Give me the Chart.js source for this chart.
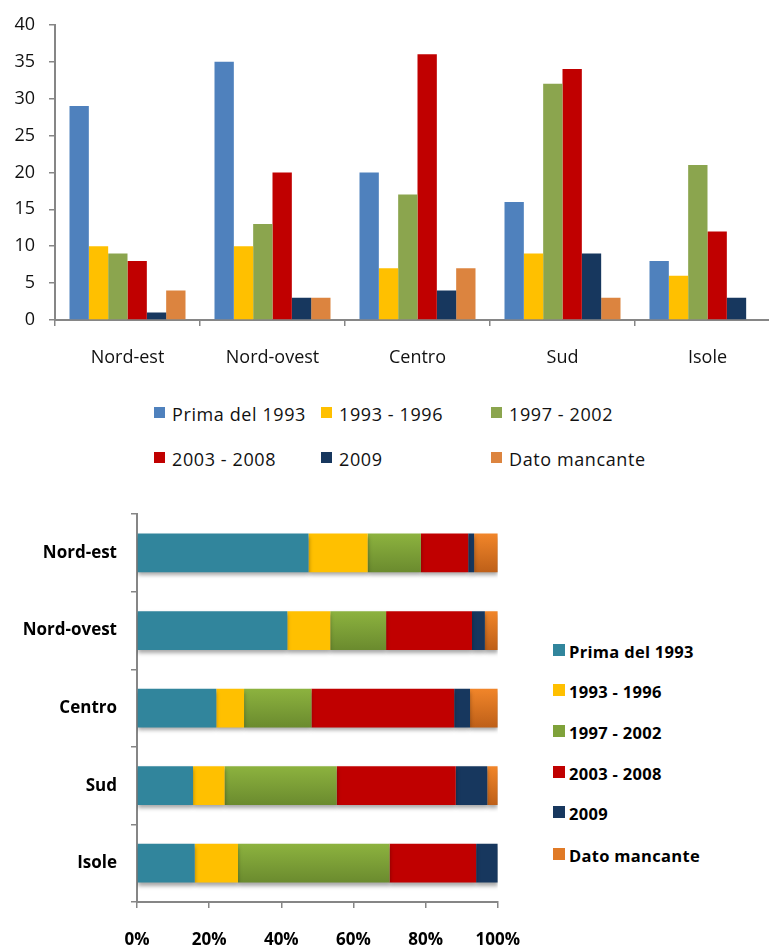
<!DOCTYPE html>
<html>
<head>
<meta charset="utf-8">
<script src="https://cdn.jsdelivr.net/npm/chart.js@4.4.1/dist/chart.umd.min.js"></script>
<style>
  html, body { margin: 0; padding: 0; background: #fff; overflow: hidden; }
  body { width: 769px; height: 946px; position: relative; font-family: "Open Sans", Lato, sans-serif; }
  #top-wrap { position: absolute; left: 0; top: 0; width: 790px; height: 370px; }
  #bottom-wrap { position: absolute; left: 0; top: 490px; width: 542px; height: 470px; }
  .legend-item { position: absolute; display: flex; align-items: center; white-space: nowrap; color: #111; }
  .legend-item span.box { display: inline-block; margin-right: 7px; }
  #top-legend .legend-item { font-size: 18px; height: 24px; letter-spacing: 0.6px; }
  #top-legend span.box { width: 11px; height: 11px; margin-top: -4px; }
  #bottom-legend .legend-item { font-size: 16.5px; font-weight: bold; height: 22px; color: #000; letter-spacing: 0.3px; }
  #bottom-legend span.box { width: 12px; height: 12px; margin-right: 4px; margin-top: -3px; }
</style>
</head>
<body>
<div id="top-wrap"><canvas id="regions-chart"></canvas></div>
<div id="top-legend"></div>
<div id="bottom-wrap"><canvas id="share-chart"></canvas></div>
<div id="bottom-legend"></div>
<script>
// Regions and the period each record dates from
const categories = ["Nord-est", "Nord-ovest", "Centro", "Sud", "Isole"];
const seriesNames = ["Prima del 1993", "1993 - 1996", "1997 - 2002", "2003 - 2008", "2009", "Dato mancante"];

const prima1993 = [29, 35, 20, 16, 8];
const from1993to1996 = [10, 10, 7, 9, 6];
const from1997to2002 = [9, 13, 17, 32, 21];
const from2003to2008 = [8, 20, 36, 34, 12];
const year2009 = [1, 3, 4, 9, 3];
const datoMancante = [4, 3, 7, 3, 0];

const countTicks = [0, 5, 10, 15, 20, 25, 30, 35, 40];
const shareTicks = ["0%", "20%", "40%", "60%", "80%", "100%"];

const allSeries = [prima1993, from1993to1996, from1997to2002, from2003to2008, year2009, datoMancante];

const countColors = ["#4f81bd", "#ffc000", "#8ba54e", "#c00000", "#17375e", "#dc843f"];
const shareColors = ["#31859c", "#ffc000", "#7fa23a", "#c00000", "#17375e", "#e07a26"];
// top / bottom shades for the bars drawn with a gradient
const shareShades = {
  2: ["#8db33f", "#6a8a2e"],
  5: ["#f2862a", "#bd5f18"],
};

const axisGray = "#868686";
const fontFamily = "'Open Sans', Lato, sans-serif";

// ================================ //
// Grouped bars: counts per region   //
// ================================ //
const countDatasets = allSeries.map((values, i) => ({
  label: seriesNames[i],
  data: values,
  backgroundColor: countColors[i],
  borderWidth: 0,
  categoryPercentage: 0.8,
  barPercentage: 1.0,
}));

new Chart(document.getElementById("regions-chart"), {
  type: "bar",
  data: { labels: categories, datasets: countDatasets },
  options: {
    responsive: true,
    maintainAspectRatio: false,
    animation: false,
    layout: { padding: { top: 22, right: 10, left: 0, bottom: 0 } },
    plugins: { legend: { display: false }, tooltip: { enabled: false } },
    scales: {
      x: {
        grid: { display: true, drawOnChartArea: false, tickLength: 6, color: axisGray, lineWidth: 1.5 },
        border: { color: axisGray, width: 2 },
        ticks: { color: "#111", padding: 21, font: { family: fontFamily, size: 18 } },
        afterFit: (scale) => { scale.height = 50; },
      },
      y: {
        min: countTicks[0],
        max: countTicks[countTicks.length - 1],
        afterBuildTicks: (scale) => { scale.ticks = countTicks.map((v) => ({ value: v })); },
        grid: { display: true, drawOnChartArea: false, tickLength: 6, color: axisGray, lineWidth: 1.5 },
        border: { color: axisGray, width: 2 },
        ticks: { color: "#111", padding: 14, font: { family: fontFamily, size: 18 } },
        afterFit: (scale) => { scale.width = 55; },
      },
    },
  },
});

// legend laid out in a 3-column grid under the chart
const topLegend = document.getElementById("top-legend");
const topCols = [154, 321, 491];
const topRows = [414, 459];
seriesNames.forEach((name, i) => {
  const item = document.createElement("div");
  item.className = "legend-item";
  item.style.left = topCols[i % 3] + "px";
  item.style.top = topRows[Math.floor(i / 3)] - 12 + "px";
  item.innerHTML = `<span class="box" style="background:${countColors[i]}"></span>${name}`;
  topLegend.appendChild(item);
});

// ================================== //
// 100% stacked bars: share per region //
// ================================== //
const totals = categories.map((_, r) => allSeries.reduce((acc, s) => acc + s[r], 0));
const shares = allSeries.map((s) => s.map((v, r) => (v / totals[r]) * 100));

function shadedFill(i) {
  if (!shareShades[i]) return shareColors[i];
  return (ctx) => {
    const chart = ctx.chart;
    const yScale = chart.scales.y;
    if (!chart.chartArea || !yScale || ctx.dataIndex === undefined) return shareColors[i];
    const mid = yScale.getPixelForValue(ctx.dataIndex);
    const half = 20;
    const g = chart.ctx.createLinearGradient(0, mid - half, 0, mid + half);
    g.addColorStop(0, shareShades[i][0]);
    g.addColorStop(1, shareShades[i][1]);
    return g;
  };
}

const shareDatasets = shares.map((values, i) => ({
  label: seriesNames[i],
  data: values,
  backgroundColor: shadedFill(i),
  borderWidth: 0,
  categoryPercentage: 0.5,
  barPercentage: 1.0,
}));

// soft drop shadow under the stacked bars
const barShadow = {
  id: "barShadow",
  beforeDatasetsDraw(chart) {
    const c = chart.ctx;
    c.save();
    c.shadowColor = "rgba(0, 0, 0, 0.35)";
    c.shadowBlur = 4;
    c.shadowOffsetY = 3;
  },
  afterDatasetsDraw(chart) {
    chart.ctx.restore();
  },
};

new Chart(document.getElementById("share-chart"), {
  type: "bar",
  data: { labels: categories, datasets: shareDatasets },
  plugins: [barShadow],
  options: {
    indexAxis: "y",
    responsive: true,
    maintainAspectRatio: false,
    animation: false,
    layout: { padding: { top: 23, right: 0, left: 0, bottom: 0 } },
    plugins: { legend: { display: false }, tooltip: { enabled: false } },
    scales: {
      x: {
        stacked: true,
        min: 0,
        max: 100,
        afterBuildTicks: (scale) => { scale.ticks = shareTicks.map((_, k) => ({ value: k * 20 })); },
        grid: { display: true, drawOnChartArea: false, tickLength: 6, color: axisGray, lineWidth: 1.5 },
        border: { color: axisGray, width: 2 },
        ticks: {
          color: "#000",
          padding: 22,
          font: { family: fontFamily, size: 17, weight: "bold" },
          callback: (value, index) => shareTicks[index],
        },
        afterFit: (scale) => { scale.height = 58; },
      },
      y: {
        stacked: true,
        grid: { display: true, drawOnChartArea: false, tickLength: 6, color: axisGray, lineWidth: 1.5 },
        border: { color: axisGray, width: 2 },
        ticks: { color: "#000", padding: 14, font: { family: fontFamily, size: 17, weight: "bold" } },
        afterFit: (scale) => { scale.width = 137; },
      },
    },
  },
});

// vertical legend to the right of the stacked bars
const bottomLegend = document.getElementById("bottom-legend");
const bottomRows = [651, 691, 732, 773, 813, 855];
seriesNames.forEach((name, i) => {
  const item = document.createElement("div");
  item.className = "legend-item";
  item.style.left = "553px";
  item.style.top = bottomRows[i] - 11 + "px";
  item.innerHTML = `<span class="box" style="background:${shareColors[i]}"></span>${name}`;
  bottomLegend.appendChild(item);
});
</script>
</body>
</html>
